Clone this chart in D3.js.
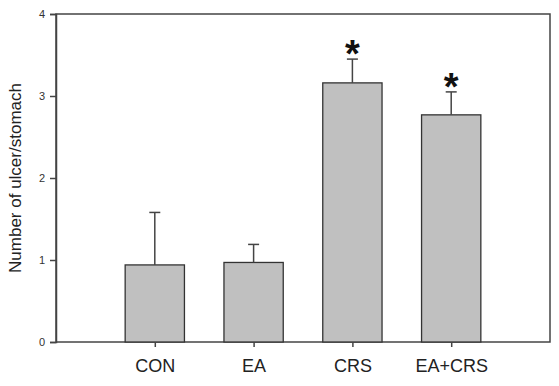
<!DOCTYPE html>
<html>
<head>
<meta charset="utf-8">
<script src="https://cdn.jsdelivr.net/npm/d3@7"></script>
<style>
  html, body { margin: 0; padding: 0; background: #fff; }
  svg { display: block; font-family: "Liberation Sans", Arial, sans-serif; }
</style>
</head>
<body>
<svg id="chart" width="559" height="386"></svg>
<script>
const categories = ["CON", "EA", "CRS", "EA+CRS"];
const means = [0.94, 0.97, 3.16, 2.77];
const errors = [0.64, 0.22, 0.29, 0.28];
const significant = [false, false, true, true];
const yTicks = [0, 1, 2, 3, 4];
const yLabel = "Number of ulcer/stomach";

const svg = d3.select("#chart");
const margin = { left: 56, right: 9, top: 14, bottom: 44 };
const W = 559, H = 386;
const x0 = margin.left, x1 = W - margin.right;
const y0 = H - margin.bottom, y1 = margin.top;

const x = d3.scalePoint().domain(categories).range([x0, x1]).padding(1);
const y = d3.scaleLinear().domain([0, 4]).range([y0, y1]);
const barW = x.step() * 0.6;
const axisColor = "#444";

// frame
svg.append("rect")
  .attr("x", x0).attr("y", y1)
  .attr("width", x1 - x0).attr("height", y0 - y1)
  .attr("fill", "none").attr("stroke", axisColor).attr("stroke-width", 1.5);

// y axis
const yAxis = svg.append("g")
  .attr("transform", `translate(${x0},0)`)
  .call(d3.axisLeft(y).tickValues(yTicks).tickSize(6).tickPadding(5).tickFormat(d3.format("d")));
yAxis.select(".domain").attr("stroke", axisColor).attr("stroke-width", 1.5);
yAxis.selectAll(".tick line").attr("stroke", axisColor).attr("stroke-width", 1.5);
yAxis.selectAll(".tick text").attr("fill", "#333").style("font-size", "11px")
  .style("font-family", "Liberation Sans, Arial, sans-serif");

// bars
const g = svg.append("g");
g.selectAll("rect.bar").data(categories).join("rect")
  .attr("class", "bar")
  .attr("x", d => x(d) - barW / 2)
  .attr("y", (d, i) => y(means[i]))
  .attr("width", barW)
  .attr("height", (d, i) => y(0) - y(means[i]))
  .attr("fill", "#c0c0c0")
  .attr("stroke", "#333")
  .attr("stroke-width", 1.3);

// error bars (upper only)
g.selectAll("line.err").data(categories).join("line")
  .attr("class", "err")
  .attr("x1", d => x(d)).attr("x2", d => x(d))
  .attr("y1", (d, i) => y(means[i]))
  .attr("y2", (d, i) => y(means[i] + errors[i]))
  .attr("stroke", "#444").attr("stroke-width", 1.5);
g.selectAll("line.cap").data(categories).join("line")
  .attr("class", "cap")
  .attr("x1", d => x(d) - 5.5).attr("x2", d => x(d) + 5.5)
  .attr("y1", (d, i) => y(means[i] + errors[i]))
  .attr("y2", (d, i) => y(means[i] + errors[i]))
  .attr("stroke", "#444").attr("stroke-width", 1.5);

// asterisks
const starSize = 38;
g.selectAll("text.star").data(categories.filter((d, i) => significant[i])).join("text")
  .attr("class", "star")
  .attr("x", d => x(d))
  .attr("y", d => { const i = categories.indexOf(d); return y(means[i] + errors[i]) - 13.5 + 0.56 * starSize; })
  .attr("text-anchor", "middle")
  .style("font-size", starSize + "px")
  .style("font-weight", "bold")
  .attr("fill", "#111")
  .text("*");

// x axis ticks and labels
const xAxis = svg.append("g")
  .attr("transform", `translate(0,${y0})`)
  .call(d3.axisBottom(x).tickSize(5).tickPadding(12));
xAxis.select(".domain").remove();
xAxis.selectAll(".tick line").attr("stroke", axisColor).attr("stroke-width", 1.5);
xAxis.selectAll(".tick text").attr("fill", "#222").style("font-size", "18px")
  .style("font-family", "Liberation Sans, Arial, sans-serif");

// y label
svg.append("text")
  .attr("transform", `translate(21,${(y0 + y1) / 2}) rotate(-90)`)
  .attr("text-anchor", "middle")
  .attr("fill", "#222")
  .style("font-size", "17px")
  .text(yLabel);
</script>
</body>
</html>
